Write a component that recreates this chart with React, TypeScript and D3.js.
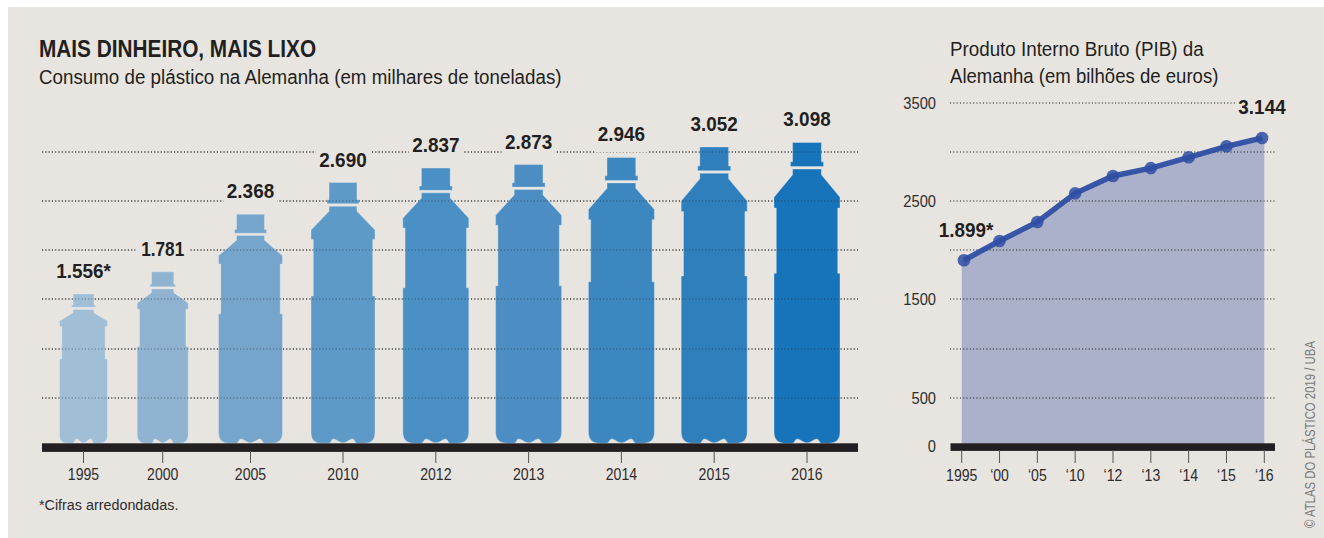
import React from "react";
import * as d3 from "d3";

// Plastic consumption in Germany (thousand tonnes)
const plasticYears = ["1995", "2000", "2005", "2010", "2012", "2013", "2014", "2015", "2016"];
const plasticValues = [1556, 1781, 2368, 2690, 2837, 2873, 2946, 3052, 3098];

// German GDP (billion euros)
const gdpTickLabels = ["1995", "‘00", "‘05", "‘10", "‘12", "‘13", "‘14", "‘15", "‘16"];
const gdpValues = [1899, 2095, 2288, 2580, 2757, 2837, 2947, 3059, 3144];
const gdpAxisTicks = [0, 500, 1500, 2500, 3500];
const gridValues = [500, 1000, 1500, 2000, 2500, 3000];

// Layout of the bottles
const bottleCenters = [83.5, 162.7, 250.5, 343, 435.8, 528.6, 621.4, 714.2, 807];
const bottleWidths = [48, 51, 64, 64, 66, 66, 66, 66, 66];
const bottleColors = ["#a0bfd7", "#8fb3d0", "#76a5cb", "#5e9ac7", "#4a90c5", "#4c8ec4", "#3d87c1", "#2f7fbc", "#1773ba"];

const W = 1324;
const H = 538;
const BG = "#e8e5e0";
const INK = "#231f20";
const SOFT = "#2f2c2d";
const FONT = "'Liberation Sans', sans-serif";

const ptBR = d3.formatLocale({ decimal: ",", thousands: ".", grouping: [3], currency: ["", ""] });
const fmt = ptBR.format(",d");

const y = d3.scaleLinear().domain([0, 3500]).range([446.7, 103]);
const xBottle = d3.scaleOrdinal<string, number>().domain(plasticYears).range(bottleCenters);
const xGdp = d3.scalePoint<string>().domain(gdpTickLabels).range([961.7, 1264.3]);

const BASE = 443.3;

// Condensed text: the installed sans squeezed horizontally about its anchor.
function Narrow({
  x,
  y: ty,
  size,
  squeeze,
  anchor = "start",
  bold = false,
  fill = INK,
  children,
}: {
  x: number;
  y: number;
  size: number;
  squeeze: number;
  anchor?: string;
  bold?: boolean;
  fill?: string;
  children: React.ReactNode;
}) {
  return (
    <text
      transform={`translate(${x},${ty}) scale(${squeeze},1)`}
      textAnchor={anchor}
      fontSize={size}
      fontWeight={bold ? 700 : 400}
      fill={fill}
    >
      {children}
    </text>
  );
}

// Silhouette of one bottle: cap with flange, then neck, shoulder, body and scalloped foot.
function bottlePath(cx: number, w: number, top: number): string {
  const h = BASE - top;
  const p = d3.path();
  const half = w / 2;
  const capHalf = w * 0.218;
  const flangeHalf = w * 0.25;
  const capEnd = top + 3.3 + 0.053 * h;
  const flangeEnd = top + 3 + 0.07 * h;
  const neckStart = top + 4.5 + 0.0735 * h;
  const neckEnd = top + 5.8 + 0.088 * h;
  const shoulder = top + 0.182 * h;
  const shoulderEnd = top + 0.218 * h;
  const step = top + 0.435 * h;
  const inset = 2.3;
  const r = w * 0.17;
  const notch = w * 0.15;
  const lift = 4.4;

  p.moveTo(cx - capHalf, top);
  p.lineTo(cx + capHalf, top);
  p.lineTo(cx + capHalf, capEnd);
  p.lineTo(cx + flangeHalf, capEnd);
  p.lineTo(cx + flangeHalf, flangeEnd);
  p.lineTo(cx - flangeHalf, flangeEnd);
  p.lineTo(cx - flangeHalf, capEnd);
  p.lineTo(cx - capHalf, capEnd);
  p.closePath();

  p.moveTo(cx - capHalf, neckStart);
  p.lineTo(cx + capHalf, neckStart);
  p.lineTo(cx + capHalf, neckEnd);
  p.lineTo(cx + half, shoulder);
  p.lineTo(cx + half, shoulderEnd);
  p.lineTo(cx + half - inset, shoulderEnd);
  p.lineTo(cx + half - inset, step);
  p.lineTo(cx + half, step);
  p.lineTo(cx + half, BASE - r);
  p.quadraticCurveTo(cx + half, BASE, cx + half - r, BASE);
  p.lineTo(cx + notch + w * 0.07, BASE);
  p.bezierCurveTo(cx + notch + w * 0.04, BASE, cx + notch + w * 0.03, BASE - lift, cx + notch, BASE - lift);
  p.bezierCurveTo(cx + notch - w * 0.04, BASE - lift, cx + w * 0.05, BASE - 0.5, cx, BASE - 0.5);
  p.bezierCurveTo(cx - w * 0.05, BASE - 0.5, cx - notch + w * 0.04, BASE - lift, cx - notch, BASE - lift);
  p.bezierCurveTo(cx - notch - w * 0.03, BASE - lift, cx - notch - w * 0.04, BASE, cx - notch - w * 0.07, BASE);
  p.lineTo(cx - half + r, BASE);
  p.quadraticCurveTo(cx - half, BASE, cx - half, BASE - r);
  p.lineTo(cx - half, step);
  p.lineTo(cx - half + inset, step);
  p.lineTo(cx - half + inset, shoulderEnd);
  p.lineTo(cx - half, shoulderEnd);
  p.lineTo(cx - half, shoulder);
  p.lineTo(cx - capHalf, neckEnd);
  p.closePath();
  return p.toString();
}

function Grid({ x1, x2, vals, opacity = 1 }: { x1: number; x2: number; vals: number[]; opacity?: number }) {
  return (
    <g stroke="#1c1c1c" strokeWidth={1} strokeDasharray="1.1 2.2" opacity={opacity}>
      {vals.map((v) => (
        <line key={v} x1={x1} x2={x2} y1={Math.round(y(v))} y2={Math.round(y(v))} />
      ))}
    </g>
  );
}

export default function App() {
  const gdpX = gdpTickLabels.map((t) => xGdp(t) as number);
  const endInset = 2.2;
  const lineX = gdpX.map((x, i) => (i === 0 ? x + endInset : i === gdpX.length - 1 ? x - endInset : x));

  const areaGen = d3
    .area<number>()
    .x((_, i) => gdpX[i])
    .y0(y(0))
    .y1((d) => y(d));
  const lineGen = d3
    .line<number>()
    .x((_, i) => lineX[i])
    .y((d) => y(d));

  return (
    <svg
      width={W}
      height={H}
      viewBox={`0 0 ${W} ${H}`}
      style={{ position: "absolute", left: 0, top: 0, display: "block", background: "#fff" }}
      fontFamily={FONT}
    >
      <rect x={8} y={7} width={W - 8} height={H - 7} fill={BG} />

      <Narrow x={39} y={57} size={23.5} squeeze={0.885} bold>
        MAIS DINHEIRO, MAIS LIXO
      </Narrow>
      <Narrow x={39} y={84} size={21} squeeze={0.894}>
        Consumo de plástico na Alemanha (em milhares de toneladas)
      </Narrow>

      {/* Left panel: gridlines run behind and, fainter, across the bottles */}
      <Grid x1={42} x2={858} vals={gridValues} />
      {plasticYears.map((yr, i) => (
        <path
          key={yr}
          d={bottlePath(xBottle(yr), bottleWidths[i], y(plasticValues[i]))}
          fill={bottleColors[i]}
          stroke="#e4edf4"
          strokeOpacity={0.45}
          strokeWidth={0.8}
        />
      ))}
      <Grid x1={42} x2={858} vals={gridValues} opacity={0.5} />

      {plasticYears.map((yr, i) => {
        const cx = xBottle(yr);
        const base = y(plasticValues[i]) - 16;
        return (
          <g key={yr}>
            <rect x={cx - 27} y={base - 16} width={54} height={27} fill={BG} />
            <Narrow x={cx} y={base} size={21} squeeze={yr === "2000" ? 0.82 : 0.9} anchor="middle" bold>
              {fmt(plasticValues[i])}
              {i === 0 ? "*" : ""}
            </Narrow>
          </g>
        );
      })}

      <rect x={42} y={BASE} width={816} height={8.6} fill={INK} />
      {plasticYears.map((yr) => (
        <g key={yr}>
          <line x1={xBottle(yr)} x2={xBottle(yr)} y1={451} y2={463} stroke="#555" strokeWidth={1} />
          <Narrow x={xBottle(yr)} y={480} size={16} squeeze={0.88} anchor="middle" fill={SOFT}>
            {yr}
          </Narrow>
        </g>
      ))}

      <Narrow x={39} y={510} size={15.5} squeeze={0.925} fill={SOFT}>
        *Cifras arredondadas.
      </Narrow>

      {/* Right panel */}
      <Narrow x={950} y={56} size={21} squeeze={0.895}>
        Produto Interno Bruto (PIB) da
      </Narrow>
      <Narrow x={950} y={83} size={21} squeeze={0.885}>
        Alemanha (em bilhões de euros)
      </Narrow>

      <path d={areaGen(gdpValues) ?? ""} fill="#abb1cb" />
      <Grid x1={950} x2={1276} vals={gridValues.concat(3500)} />
      <rect x={1235} y={96} width={52} height={14} fill={BG} />

      <rect x={950.5} y={BASE} width={324.5} height={7.6} fill={INK} />
      {gdpTickLabels.map((t) => (
        <g key={t}>
          <line x1={xGdp(t)} x2={xGdp(t)} y1={450} y2={463} stroke="#555" strokeWidth={1} />
          <Narrow x={xGdp(t)} y={481} size={16} squeeze={0.88} anchor="middle" fill={SOFT}>
            {t}
          </Narrow>
        </g>
      ))}
      {gdpAxisTicks.map((v) => (
        <Narrow key={v} x={936} y={y(v) + (v === 0 ? 5 : 6)} size={16} squeeze={0.92} anchor="end" fill={SOFT}>
          {v}
        </Narrow>
      ))}

      <path d={lineGen(gdpValues) ?? ""} fill="none" stroke="#2f4fa3" strokeWidth={5.5} opacity={0.95} />
      {gdpValues.map((v, i) => (
        <circle key={i} cx={lineX[i]} cy={y(v)} r={6.3} fill="#2f4fa3" opacity={0.85} />
      ))}

      <Narrow x={966} y={237} size={21} squeeze={0.9} anchor="middle" bold>
        {fmt(gdpValues[0])}*
      </Narrow>
      <Narrow x={1262} y={113.5} size={21} squeeze={0.9} anchor="middle" bold>
        {fmt(gdpValues[gdpValues.length - 1])}
      </Narrow>

      <text
        x={0}
        y={0}
        transform="translate(1315,528) rotate(-90)"
        fontSize={14}
        fill="#7a7a7a"
        textLength={187}
        lengthAdjust="spacingAndGlyphs"
      >
        © ATLAS DO PLÁSTICO 2019 / UBA
      </text>
    </svg>
  );
}
